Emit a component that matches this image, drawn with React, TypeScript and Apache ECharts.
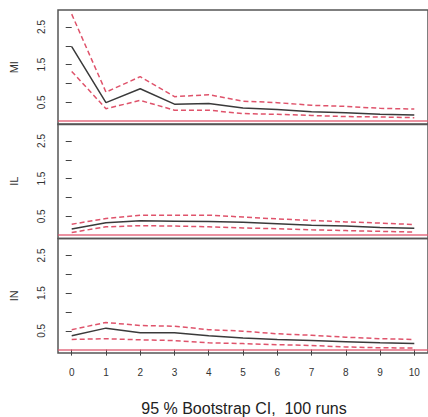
import React, { useEffect, useRef } from "react";
import * as echarts from "echarts";

const steps = [0, 1, 2, 3, 4, 5, 6, 7, 8, 9, 10];
const panelNames = ["MI", "IL", "IN"];

const miEst = [1.98, 0.49, 0.86, 0.45, 0.47, 0.35, 0.31, 0.25, 0.22, 0.18, 0.16];
const miUp = [2.84, 0.77, 1.18, 0.65, 0.70, 0.53, 0.49, 0.42, 0.39, 0.34, 0.32];
const miLo = [1.32, 0.33, 0.55, 0.29, 0.29, 0.20, 0.18, 0.15, 0.12, 0.11, 0.09];

const ilEst = [0.16, 0.33, 0.38, 0.37, 0.36, 0.34, 0.30, 0.26, 0.24, 0.20, 0.18];
const ilUp = [0.29, 0.44, 0.53, 0.53, 0.53, 0.48, 0.43, 0.39, 0.35, 0.32, 0.28];
const ilLo = [0.07, 0.22, 0.25, 0.24, 0.22, 0.19, 0.17, 0.14, 0.12, 0.10, 0.08];

const inEst = [0.37, 0.57, 0.45, 0.45, 0.37, 0.31, 0.27, 0.24, 0.21, 0.18, 0.16];
const inUp = [0.53, 0.72, 0.64, 0.62, 0.53, 0.49, 0.42, 0.38, 0.33, 0.29, 0.27];
const inLo = [0.27, 0.29, 0.26, 0.24, 0.18, 0.16, 0.13, 0.11, 0.07, 0.05, 0.04];

const yTicks = [0.5, 1, 1.5, 2, 2.5];
const yLabels = [0.5, 1.5, 2.5];
const titleText = "95 % Bootstrap CI,  100 runs";

const FONT = "'Liberation Sans', Arial, Helvetica, sans-serif";
const RED = "#DF536B";
const BLACK = "#3a3a3a";

export default function App() {
  const ref = useRef<HTMLDivElement>(null);
  useEffect(() => {
    if (!ref.current) return;
    const chart = echarts.init(ref.current, undefined, { renderer: "svg" });
    const panels = [
      [miEst, miUp, miLo],
      [ilEst, ilUp, ilLo],
      [inEst, inUp, inLo],
    ];
    const tops = [10, 124, 238.5];
    const h = 114.5;
    const grids = tops.map((t) => ({
      left: 56,
      top: t,
      width: 375.5,
      height: h,
      show: true,
      borderColor: "#555",
      borderWidth: 1.5,
      backgroundColor: "transparent",
    }));
    const xAxes = tops.map((_, i) => ({
      type: "value",
      gridIndex: i,
      min: -0.4,
      max: 10.4,
      axisLine: { show: false },
      splitLine: { show: false },
      axisTick: {
        show: i === 2,
        customValues: steps,
        length: 6,
        lineStyle: { color: "#444", width: 1 },
      },
      axisLabel: {
        show: i === 2,
        customValues: steps,
        fontSize: 10,
        color: "#333",
        fontFamily: FONT,
        margin: 14,
      },
    }));
    const yAxes = tops.map((_, i) => ({
      type: "value",
      gridIndex: i,
      min: -0.09,
      max: 2.95,
      name: panelNames[i],
      nameLocation: "middle",
      nameRotate: 90,
      nameGap: 39,
      nameTextStyle: { fontSize: 11, color: "#333", fontFamily: FONT },
      axisLine: { show: false },
      splitLine: { show: false },
      axisTick: {
        show: true,
        customValues: yTicks,
        length: 6,
        lineStyle: { color: "#444", width: 1 },
      },
      axisLabel: {
        customValues: yLabels,
        rotate: 90,
        fontSize: 10,
        color: "#333",
        fontFamily: FONT,
        margin: 12,
        formatter: (v: number) => v.toFixed(1),
      },
    }));
    const series: any[] = [];
    panels.forEach((p, i) => {
      const [est, up, lo] = p;
      series.push({
        type: "line",
        xAxisIndex: i,
        yAxisIndex: i,
        data: steps.map((x, k) => [x, est[k]]),
        symbol: "none",
        lineStyle: { color: BLACK, width: 1.5 },
        markLine: {
          silent: true,
          symbol: "none",
          label: { show: false },
          lineStyle: { color: RED, width: 1.5, type: "solid", opacity: 0.85 },
          data: [{ yAxis: 0 }],
        },
      });
      [up, lo].forEach((arr) => {
        series.push({
          type: "line",
          xAxisIndex: i,
          yAxisIndex: i,
          data: steps.map((x, k) => [x, arr[k]]),
          symbol: "none",
          lineStyle: { color: RED, width: 1.5, type: [5, 3] },
        });
      });
    });
    chart.setOption({
      animation: false,
      grid: grids,
      xAxis: xAxes,
      yAxis: yAxes,
      series,
      graphic: [
        {
          type: "text",
          x: 244,
          y: 408,
          style: {
            text: titleText,
            fontSize: 16,
            fontFamily: FONT,
            fill: "#222",
            textAlign: "center",
            textVerticalAlign: "middle",
          },
        },
      ],
    });
    return () => chart.dispose();
  }, []);
  return (
    <div
      ref={ref}
      style={{ position: "fixed", left: 0, top: 0, width: 428, height: 417, background: "#fff" }}
    />
  );
}
